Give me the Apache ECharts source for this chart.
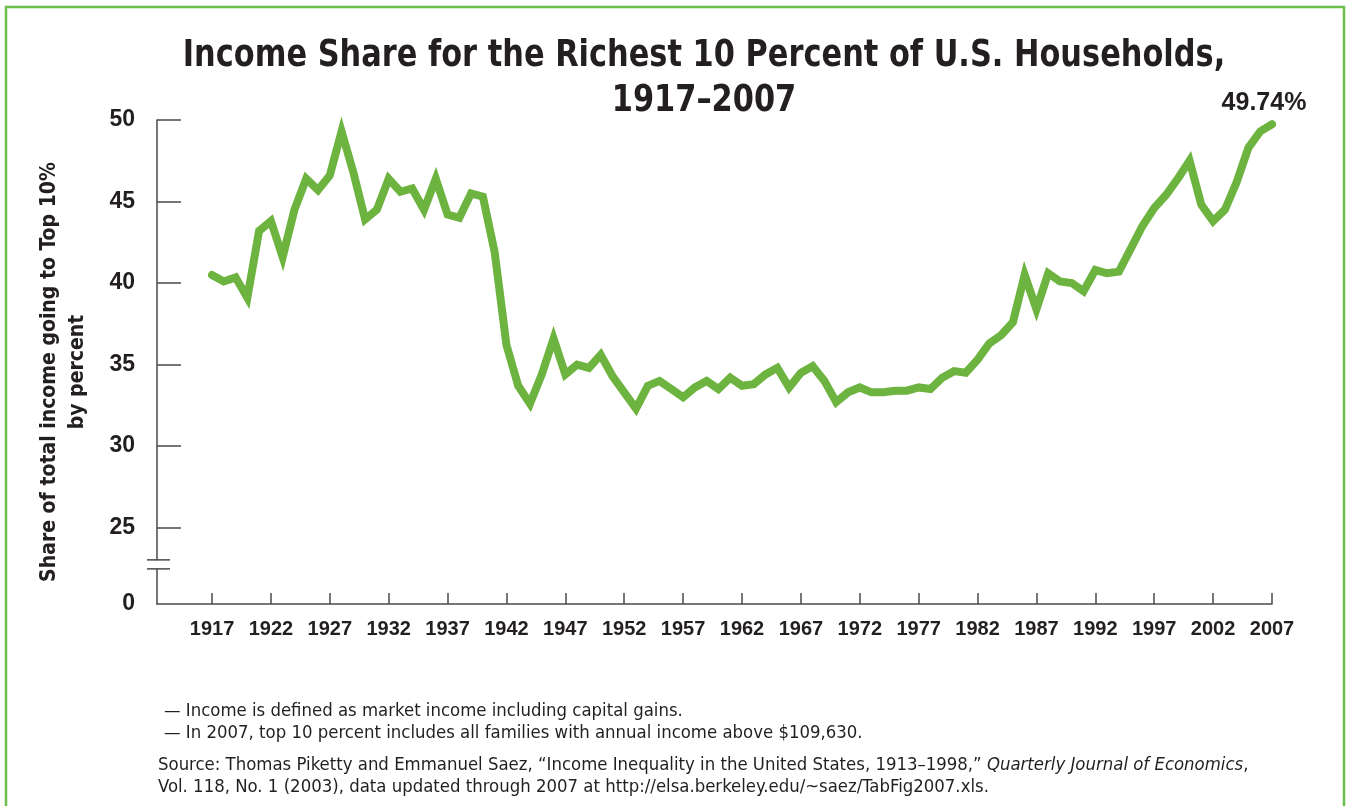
<!DOCTYPE html>
<html>
<head>
	<meta charset="utf-8">
	<title>Income Share for the Richest 10 Percent</title>
	<script type="text/javascript" src="https://cdn.jsdelivr.net/npm/echarts@6/dist/echarts.min.js"></script>
	<style>
		html, body { margin: 0; padding: 0; background: #fff; }
	</style>
</head>

<body>
	<div style="height: 806px; width: 1350px" id="share"></div>

	<script type="text/javascript">
		// data
		var years = [];
		for (var y = 1917; y <= 2007; y++) years.push(y);

		var share = [
			40.5, 40.1, 40.35, 39.1, 43.2, 43.8, 41.6, 44.5, 46.4, 45.7,   // 1917-1926
			46.6, 49.3, 46.8, 43.9, 44.5, 46.4, 45.6, 45.8, 44.5, 46.4,    // 1927-1936
			44.2, 44.0, 45.5, 45.3, 41.9, 36.2, 33.7, 32.6, 34.4, 36.6,    // 1937-1946
			34.4, 35.0, 34.8, 35.6, 34.3, 33.3, 32.3, 33.7, 34.0, 33.5,    // 1947-1956
			33.0, 33.6, 34.0, 33.5, 34.2, 33.7, 33.8, 34.4, 34.8, 33.6,    // 1957-1966
			34.5, 34.9, 34.0, 32.7, 33.3, 33.6, 33.3, 33.3, 33.4, 33.4,    // 1967-1976
			33.6, 33.5, 34.2, 34.6, 34.5, 35.3, 36.3, 36.8, 37.6, 40.5,    // 1977-1986
			38.4, 40.6, 40.1, 40.0, 39.5, 40.8, 40.6, 40.7, 42.1, 43.5,    // 1987-1996
			44.6, 45.4, 46.4, 47.5, 44.8, 43.8, 44.5, 46.2, 48.3, 49.3,    // 1997-2006
			49.74                                                          // 2007
		];

		var xTicks = [1917, 1922, 1927, 1932, 1937, 1942, 1947, 1952, 1957, 1962,
			1967, 1972, 1977, 1982, 1987, 1992, 1997, 2002, 2007];
		var yTicks = [25, 30, 35, 40, 45, 50];
		var yZero = 20.32;   // where the broken axis shows "0"

		var ink = '#231f20';
		var green = '#6cb33f';

		function get_points(){
			var pts = [];
			for (var i = 0; i < years.length; i++){
				pts.push([years[i], share[i]]);
			}
			return pts;
		}

		var chart = echarts.init(document.getElementById('share'));

		var last = years.length - 1;

		var option = {
			animation: false,
			backgroundColor: '#ffffff',
			grid: {
				left: 157,
				right: 78,
				top: 120,
				bottom: 202
			},
			xAxis: {
				type: 'value',
				min: 1912.33,
				max: 2007,
				splitLine: { show: false },
				axisLine: { lineStyle: { color: '#4a4a4a', width: 1.5 } },
				axisTick: {
					inside: true,
					length: 11,
					customValues: xTicks,
					lineStyle: { color: '#4a4a4a', width: 1.5 }
				},
				axisLabel: {
					customValues: xTicks,
					formatter: function (v) { return String(v); },
					margin: 15,
					color: ink,
					fontFamily: 'Liberation Sans, Arial, sans-serif',
					fontWeight: 'bold',
					fontSize: 20
				}
			},
			yAxis: {
				type: 'value',
				min: yZero,
				max: 50,
				splitLine: { show: false },
				axisLine: { show: true, lineStyle: { color: '#4a4a4a', width: 1.5 } },
				axisTick: {
					inside: true,
					length: 24,
					customValues: yTicks,
					lineStyle: { color: '#4a4a4a', width: 1.5 }
				},
				axisLabel: {
					customValues: [yZero].concat(yTicks),
					formatter: function (v) { return v < 21 ? '0' : String(v); },
					margin: 22,
					color: ink,
					fontFamily: 'Liberation Sans, Arial, sans-serif',
					fontWeight: 'bold',
					fontSize: 23
				}
			},
			series: [
				{
					name: 'Top 10%',
					type: 'line',
					data: get_points(),
					symbol: 'none',
					lineStyle: {
						color: green,
						width: 8,
						cap: 'round',
						join: 'miter'
					},
					markPoint: {
						symbol: 'circle',
						symbolSize: 0,
						silent: true,
						data: [{ coord: [years[last], share[last]], value: share[last] }],
						label: {
							show: true,
							position: 'top',
							distance: 0,
							offset: [-8, -9],
							formatter: share[last].toFixed(2) + '%',
							fontFamily: 'Liberation Sans, Arial, sans-serif',
							fontWeight: 'bold',
							fontSize: 25,
							color: ink
						}
					}
				}
			]
		};

		chart.setOption(option);

		// axis break marks, titles, notes and the frame
		var axisX = chart.convertToPixel({ gridIndex: 0 }, [1912.33, 25])[0];
		var brk = chart.convertToPixel({ gridIndex: 0 }, [1912.33, 22.75])[1];

		var noteFont = '18.4px "DejaVu Sans Condensed", "Liberation Sans", Arial, sans-serif';
		var titleFont = 'bold 38px "DejaVu Sans Condensed", "Liberation Sans", Arial, sans-serif';

		chart.setOption({
			graphic: [
				{
					type: 'rect',
					shape: { x: 6, y: 7, width: 1338, height: 812 },
					style: { fill: null, stroke: '#6cbf4c', lineWidth: 2.5 },
					silent: true
				},
				{
					type: 'text',
					x: 704, y: 56,
					scaleX: 0.89,
					style: { text: 'Income Share for the Richest 10 Percent of U.S. Households,', align: 'center', verticalAlign: 'middle', fill: ink, font: titleFont }
				},
				{
					type: 'text',
					x: 704, y: 101,
					scaleX: 0.89,
					style: { text: '1917\u20132007', align: 'center', verticalAlign: 'middle', fill: ink, font: titleFont }
				},
				{
					type: 'rect',
					shape: { x: axisX - 4, y: brk - 4, width: 8, height: 8 },
					style: { fill: '#ffffff' },
					z: 100
				},
				{
					type: 'line',
					shape: { x1: axisX - 10, y1: brk - 4.5, x2: axisX + 13, y2: brk - 4.5 },
					style: { stroke: '#4a4a4a', lineWidth: 1.5 },
					z: 101
				},
				{
					type: 'line',
					shape: { x1: axisX - 10, y1: brk + 4.5, x2: axisX + 13, y2: brk + 4.5 },
					style: { stroke: '#4a4a4a', lineWidth: 1.5 },
					z: 101
				},
				{
					type: 'text',
					x: 64,
					y: 372,
					rotation: Math.PI / 2,
					style: {
						text: 'Share of total income going to Top 10%\nby percent',
						align: 'center',
						verticalAlign: 'middle',
						lineHeight: 28,
						fill: ink,
						font: 'bold 21px "DejaVu Sans Condensed", "Liberation Sans", Arial, sans-serif'
					}
				},
				{
					type: 'text',
					x: 164, y: 711,
					style: { text: '\u2014 Income is defined as market income including capital gains.', verticalAlign: 'middle', fill: ink, font: noteFont }
				},
				{
					type: 'text',
					x: 164, y: 733,
					style: { text: '\u2014 In 2007, top 10 percent includes all families with annual income above $109,630.', verticalAlign: 'middle', fill: ink, font: noteFont }
				},
				{
					type: 'text',
					x: 158, y: 765,
					style: {
						text: '{n|Source: Thomas Piketty and Emmanuel Saez, \u201cIncome Inequality in the United States, 1913\u20131998,\u201d }{i|Quarterly Journal of Economics}{n|,}',
						verticalAlign: 'middle',
						fill: ink,
						font: noteFont,
						rich: {
							n: { font: noteFont, fill: ink },
							i: { font: 'italic ' + noteFont, fill: ink }
						}
					}
				},
				{
					type: 'text',
					x: 158, y: 787,
					style: { text: 'Vol. 118, No. 1 (2003), data updated through 2007 at http://elsa.berkeley.edu/~saez/TabFig2007.xls.', verticalAlign: 'middle', fill: ink, font: noteFont }
				}
			]
		});
	</script>
</body>
</html>
